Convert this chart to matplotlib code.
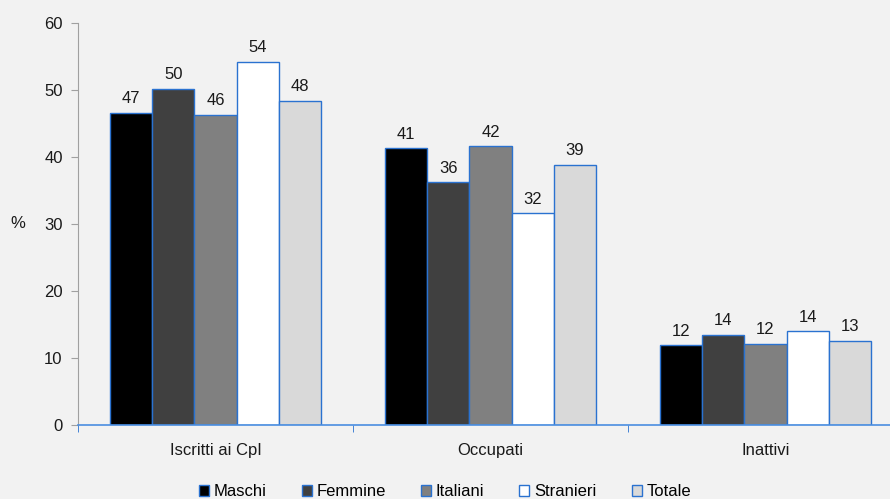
import matplotlib.pyplot as plt
import numpy as np

plt.rcParams['font.family'] = ['Liberation Sans', 'DejaVu Sans']

categories = ['Iscritti ai CpI', 'Occupati', 'Inattivi']
series = ['Maschi', 'Femmine', 'Italiani', 'Stranieri', 'Totale']
values = {
    'Maschi':    [46.6, 41.3, 11.9],
    'Femmine':   [50.2, 36.2, 13.5],
    'Italiani':  [46.3, 41.6, 12.1],
    'Stranieri': [54.2, 31.6, 14.0],
    'Totale':    [48.4, 38.8, 12.6],
}
colors = ['#000000', '#404040', '#808080', '#ffffff', '#d9d9d9']

BG = '#f2f2f2'
EDGE = '#2a72d0'
TXT = '#1a1a1a'

fig = plt.figure(figsize=(8.9, 4.99), dpi=100, facecolor=BG)
ax = fig.add_axes([78 / 890, 1 - 425 / 499, 825 / 890, 402 / 499])
ax.set_facecolor(BG)

x = np.arange(len(categories))
width = 0.1535
for i, name in enumerate(series):
    pos = x + (i - 2) * width
    bars = ax.bar(pos, values[name], width, color=colors[i], edgecolor=EDGE,
                  linewidth=1, label=name)
    for b, v in zip(bars, values[name]):
        ax.text(b.get_x() + b.get_width() / 2, v + 1.0, f'{v:.0f}',
                ha='center', va='bottom', fontsize=12, color=TXT)

ax.set_xlim(-0.5, 2.5)
ax.set_ylim(0, 60)
ax.set_yticks(range(0, 61, 10))
ax.tick_params(axis='y', direction='out', length=5, color='#a0a0a0',
               labelsize=12, labelcolor=TXT, pad=6)

ax.set_xticks(x)
ax.set_xticklabels(categories)
ax.set_xticks([-0.5, 0.5, 1.5], minor=True)
ax.tick_params(axis='x', which='major', length=0, pad=13, labelsize=12,
               labelcolor=TXT)
ax.tick_params(axis='x', which='minor', direction='out', length=5, color=EDGE)

for side in ['top', 'right']:
    ax.spines[side].set_visible(False)
ax.spines['left'].set_color('#a0a0a0')
ax.spines['bottom'].set_color('#4a8ee0')
ax.spines['bottom'].set_linewidth(1.2)

fig.text(18 / 890, 1 - 224 / 499, '%', ha='center', va='center', fontsize=12,
         color=TXT)

fig.legend(loc='center', bbox_to_anchor=(445 / 890, 1 - 492 / 499), ncol=5,
           frameon=False, fontsize=12, handlelength=0.6, handleheight=0.6,
           handletextpad=0.3, columnspacing=2.1, borderaxespad=0)

fig.savefig('out.png', dpi=100, facecolor=BG)
